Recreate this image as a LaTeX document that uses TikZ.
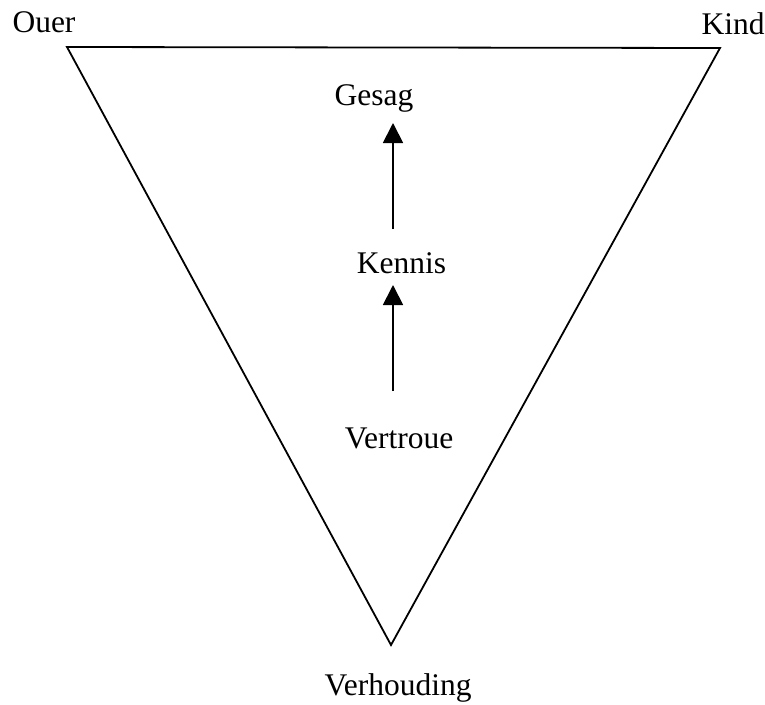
\documentclass[tikz,border=0pt]{standalone}
\usepackage{fontspec}
\setmainfont{Liberation Serif}
\usetikzlibrary{arrows.meta}
\begin{document}
\begin{tikzpicture}[x=1pt,y=-1pt,
  lbl/.style={anchor=base,inner sep=0pt,font=\fontsize{31.5}{37}\selectfont},
  edge/.style={line width=1.8pt,line join=miter},
  arr/.style={line width=1.8pt,-{Triangle[length=20pt,width=20pt]}}]
\useasboundingbox (0,0) rectangle (765,704);
\coordinate (tl) at (67,47);
\coordinate (tr) at (720,48);
\coordinate (bt) at (391,645);
\draw[edge] (tl) -- (tr) -- (bt) -- cycle;
\node[lbl] (ouer) at (44,32) {Ouer};
\node[lbl] (kind) at (733,34) {Kind};
\node[lbl] (gesag) at (374,105) {Gesag};
\node[lbl] (kennis) at (401.5,273) {Kennis};
\node[lbl] (vertroue) at (399,448) {Vertroue};
\node[lbl] (verhouding) at (398,695) {Verhouding};
\coordinate (a1s) at (393,229);
\coordinate (a1e) at (393,123);
\coordinate (a2s) at (393,391);
\coordinate (a2e) at (393,285);
\draw[arr] (a1s) -- (a1e);
\draw[arr] (a2s) -- (a2e);
\end{tikzpicture}
\end{document}
